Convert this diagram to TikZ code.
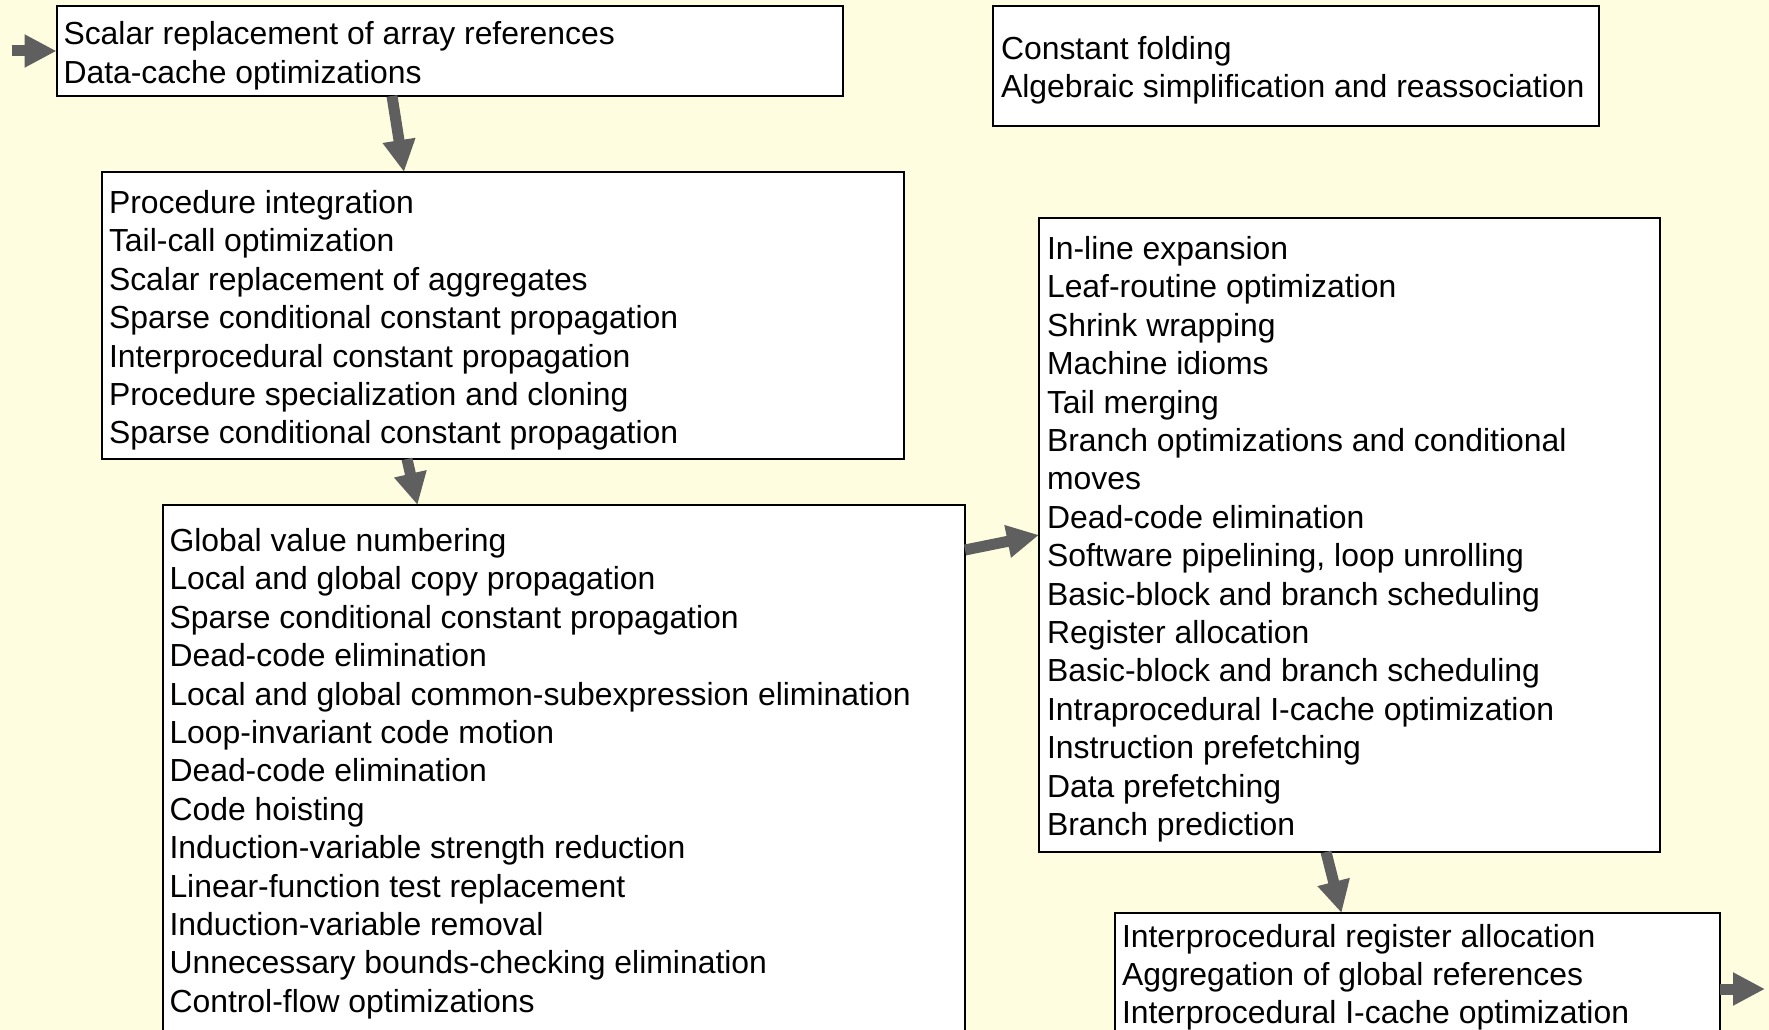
\documentclass[tikz,border=0pt]{standalone}
\usepackage{fontspec}
\setmainfont{Liberation Sans}
\usetikzlibrary{arrows.meta}
\definecolor{bgyellow}{RGB}{255,253,224}
\definecolor{arrowgray}{RGB}{95,95,95}
\begin{document}
\begin{tikzpicture}[x=1pt,y=-1pt,
  box/.style={draw=black, line width=2pt, fill=white, rectangle, inner sep=0pt, outer sep=0pt, anchor=north west},
  txt/.style={anchor=north west, inner sep=0pt, outer sep=0pt, align=left, font=\fontsize{31.9}{38.4}\selectfont},
  flow/.style={draw=arrowgray, line width=11pt, line cap=butt, -{Triangle[length=32pt,width=31pt]}}]
\clip (0,0) rectangle (1769,1030);
\fill[bgyellow] (0,0) rectangle (1769,1030);
% boxes
\node[box, minimum width=786.5pt, minimum height=90pt] (b1) at (56.5,6) {};
\node[box, minimum width=606pt, minimum height=120.5pt] (b2) at (993,6) {};
\node[box, minimum width=802pt, minimum height=287pt] (b3) at (102,172) {};
\node[box, minimum width=802.5pt, minimum height=600pt] (b4) at (162.5,505) {};
\node[box, minimum width=621pt, minimum height=634pt] (b5) at (1039,218) {};
\node[box, minimum width=605pt, minimum height=200pt] (b6) at (1114.5,913) {};
% texts
\node[txt] (t1) at (63.5,15) {\rule{0pt}{30pt}Scalar replacement of array references\\Data-cache optimizations};
\node[txt] (t2) at (1001,29.5) {\rule{0pt}{30pt}Constant folding\\Algebraic simplification and reassociation};
\node[txt] (t3) at (109,183.5) {\rule{0pt}{30pt}Procedure integration\\Tail-call optimization\\Scalar replacement of aggregates\\Sparse conditional constant propagation\\Interprocedural constant propagation\\Procedure specialization and cloning\\Sparse conditional constant propagation};
\node[txt] (t4) at (169.5,521.5) {\rule{0pt}{30pt}Global value numbering\\Local and global copy propagation\\Sparse conditional constant propagation\\Dead-code elimination\\Local and global common-subexpression elimination\\Loop-invariant code motion\\Dead-code elimination\\Code hoisting\\Induction-variable strength reduction\\Linear-function test replacement\\Induction-variable removal\\Unnecessary bounds-checking elimination\\Control-flow optimizations};
\node[txt] (t5) at (1047,229.5) {\rule{0pt}{30pt}In-line expansion\\Leaf-routine optimization\\Shrink wrapping\\Machine idioms\\Tail merging\\Branch optimizations and conditional\\moves\\Dead-code elimination\\Software pipelining, loop unrolling\\Basic-block and branch scheduling\\Register allocation\\Basic-block and branch scheduling\\Intraprocedural I-cache optimization\\Instruction prefetching\\Data prefetching\\Branch prediction};
\node[txt] (t6) at (1122,917) {\rule{0pt}{30pt}Interprocedural register allocation\\Aggregation of global references\\Interprocedural I-cache optimization};
% connectors
\coordinate (in) at (12,51);
\coordinate (out) at (1765,989);
\draw[flow] (in) -- ([yshift=-45pt]b1.north west);
\draw[flow] ([xshift=335.5pt]b1.south west) -- ([xshift=302pt]b3.north west);
\draw[flow] ([xshift=305pt]b3.south west) -- ([xshift=255pt]b4.north west);
\draw[flow] ([yshift=-45pt]b4.north east) -- ([yshift=-317pt]b5.north west);
\draw[flow] ([xshift=287pt]b5.south west) -- ([xshift=227pt]b6.north west);
\draw[flow] ([yshift=-76pt]b6.north east) -- (out);
\end{tikzpicture}
\end{document}
